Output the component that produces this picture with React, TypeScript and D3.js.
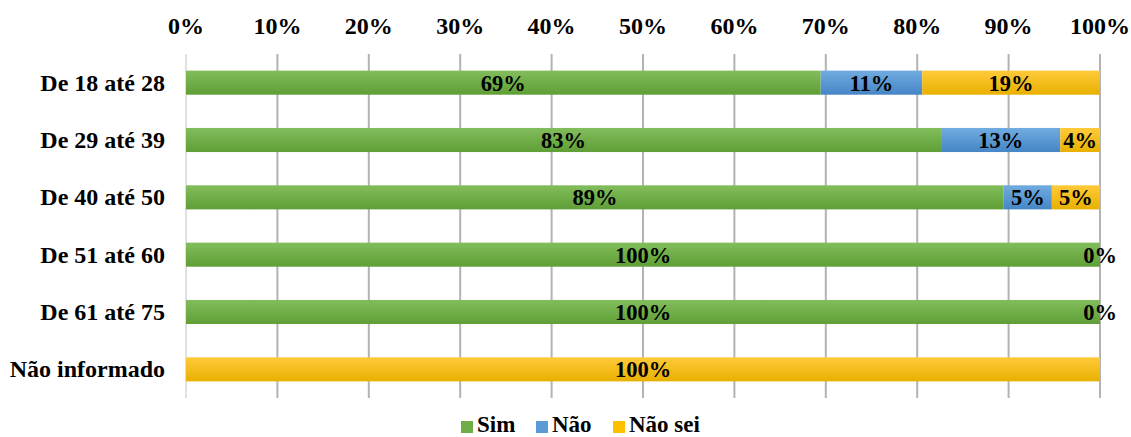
import React from "react";
import * as d3 from "d3";

// Age groups (rows, top to bottom)
const categories = [
  "De 18 até 28",
  "De 29 até 39",
  "De 40 até 50",
  "De 51 até 60",
  "De 61 até 75",
  "Não informado",
];

// Share of answers per age group, in percent
const sim = [69.44, 82.61, 89.47, 100, 100, 0];
const nao = [11.11, 13.04, 5.26, 0, 0, 0];
const naoSei = [19.44, 4.35, 5.26, 0, 0, 100];

const seriesNames = ["Sim", "Não", "Não sei"];
const seriesValues = [sim, nao, naoSei];
const seriesColors = [
  ["#82bd5c", "#5f9f36"],
  ["#71abe0", "#4686c6"],
  ["#ffca3a", "#e8b000"],
];
const legendColors = ["#70ad47", "#5b9bd5", "#ffc000"];

const xTicks = [0, 10, 20, 30, 40, 50, 60, 70, 80, 90, 100];

const W = 1131;
const H = 437;
const FONT = "'Liberation Serif', 'Times New Roman', serif";

export default function App() {
  const x = d3.scaleLinear().domain([0, 100]).range([186, 1100]);
  const y = d3
    .scaleBand<string>()
    .domain(categories)
    .range([54, 398])
    .paddingInner(0.58)
    .paddingOuter(0.29);

  const stackData = categories.map((c, i) => ({
    cat: c,
    "0": sim[i],
    "1": nao[i],
    "2": naoSei[i],
  }));
  const stack = d3.stack<any>().keys(["0", "1", "2"]);
  const layers = stack(stackData);

  const legendItems = [
    { x: 461, name: seriesNames[0] },
    { x: 536, name: seriesNames[1] },
    { x: 613, name: seriesNames[2] },
  ];

  return (
    <svg width={W} height={H} style={{ display: "block", position: "absolute", left: 0, top: 0 }}>
      <defs>
        {seriesColors.map((c, i) => (
          <linearGradient key={i} id={`grad${i}`} x1="0" y1="0" x2="0" y2="1">
            <stop offset="0%" stopColor={c[0]} />
            <stop offset="100%" stopColor={c[1]} />
          </linearGradient>
        ))}
      </defs>
      <rect width={W} height={H} fill="#fff" />

      {/* vertical gridlines */}
      {xTicks.map((t) => (
        <line
          key={t}
          x1={x(t)}
          x2={x(t)}
          y1={54}
          y2={398}
          stroke={t === 0 ? "#dde1e8" : "#b3b3b3"}
          strokeWidth={2}
        />
      ))}

      {/* top axis labels */}
      {xTicks.map((t) => (
        <text
          key={t}
          x={x(t)}
          y={34}
          textAnchor="middle"
          fontFamily={FONT}
          fontWeight="bold"
          fontSize={24}
          fill="#000"
        >
          {t}%
        </text>
      ))}

      {/* category labels */}
      {categories.map((c) => (
        <text
          key={c}
          x={165}
          y={(y(c) as number) + y.bandwidth() / 2 + 8}
          textAnchor="end"
          fontFamily={FONT}
          fontWeight="bold"
          fontSize={24}
          fill="#000"
        >
          {c}
        </text>
      ))}

      {/* stacked bars */}
      {layers.map((layer, si) => (
        <g key={si}>
          {layer.map((d, ci) => {
            const v = seriesValues[si][ci];
            if (v <= 0) return null;
            return (
              <rect
                key={ci}
                x={x(d[0])}
                y={y(categories[ci])}
                width={x(d[1]) - x(d[0])}
                height={y.bandwidth()}
                fill={`url(#grad${si})`}
              />
            );
          })}
        </g>
      ))}

      {/* value labels */}
      {layers.map((layer, si) => (
        <g key={si}>
          {layer.map((d, ci) => {
            const v = seriesValues[si][ci];
            if (v <= 0 && si !== 2) return null;
            const cx = (x(d[0]) + x(d[1])) / 2;
            return (
              <text
                key={ci}
                x={cx}
                y={(y(categories[ci]) as number) + y.bandwidth() / 2 + 8}
                textAnchor="middle"
                fontFamily={FONT}
                fontWeight="bold"
                fontSize={22.5}
                fill="#000"
              >
                {Math.round(v)}%
              </text>
            );
          })}
        </g>
      ))}

      {/* legend */}
      {legendItems.map((it, i) => (
        <g key={i}>
          <rect x={it.x} y={421} width={12} height={12} fill={legendColors[i]} />
          <text
            x={it.x + 16}
            y={432}
            fontFamily={FONT}
            fontWeight="bold"
            fontSize={23}
            fill="#000"
          >
            {it.name}
          </text>
        </g>
      ))}
    </svg>
  );
}
